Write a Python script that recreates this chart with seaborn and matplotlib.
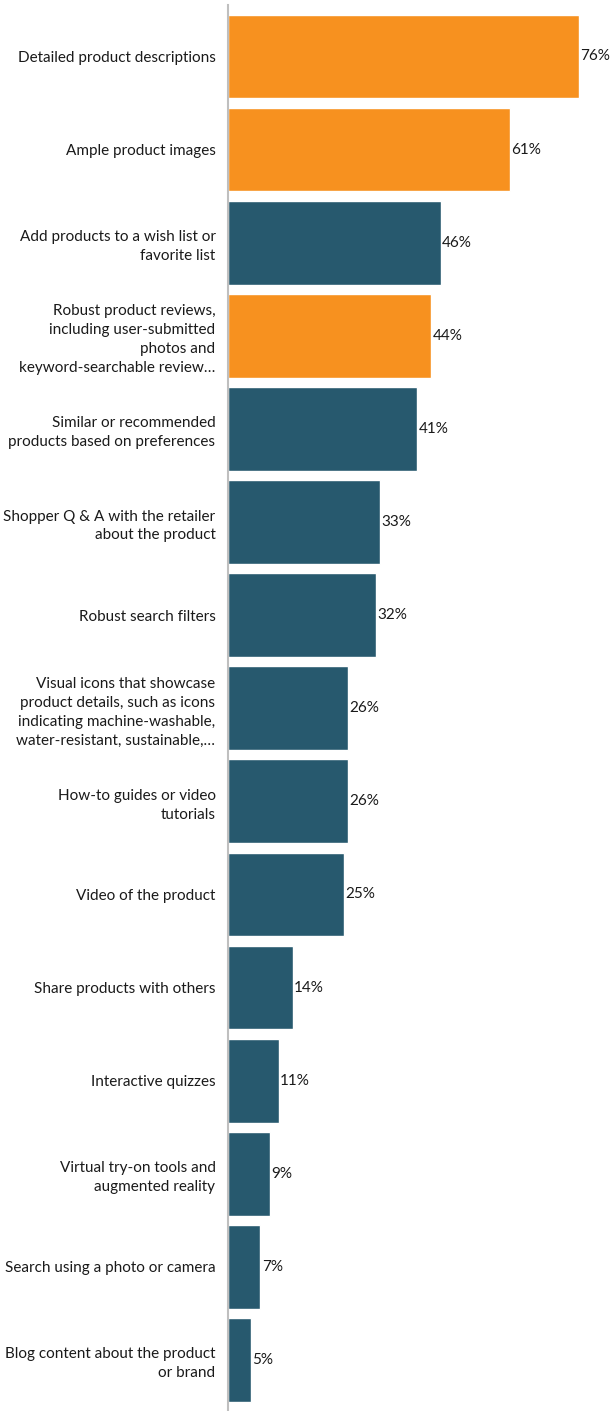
import matplotlib
matplotlib.use("Agg")
import matplotlib.pyplot as plt
import seaborn as sns
import pandas as pd

categories = [
    "Detailed product descriptions",
    "Ample product images",
    "Add products to a wish list or\nfavorite list",
    "Robust product reviews,\nincluding user-submitted\nphotos and\nkeyword-searchable review\u2026",
    "Similar or recommended\nproducts based on preferences",
    "Shopper Q & A with the retailer\nabout the product",
    "Robust search filters",
    "Visual icons that showcase\nproduct details, such as icons\nindicating machine-washable,\nwater-resistant, sustainable,\u2026",
    "How-to guides or video\ntutorials",
    "Video of the product",
    "Share products with others",
    "Interactive quizzes",
    "Virtual try-on tools and\naugmented reality",
    "Search using a photo or camera",
    "Blog content about the product\nor brand",
]
values = [76, 61, 46, 44, 41, 33, 32, 26, 26, 25, 14, 11, 9, 7, 5]
highlight = [True, True, False, True, False, False, False, False, False, False, False, False, False, False, False]

ORANGE = "#F7911F"
TEAL = "#27596E"
TEXT = "#1A1A1A"

df = pd.DataFrame({"feature": categories, "share": values, "hl": highlight})
palette = {c: (ORANGE if h else TEAL) for c, h in zip(categories, highlight)}

sns.set_theme(style="white")
plt.rcParams["font.family"] = ["Lato", "DejaVu Sans"]

fig = plt.figure(figsize=(6.13, 14.11), dpi=100)
ax = fig.add_axes([228 / 613, 0, 385 / 613, 1406 / 1411])

sns.barplot(data=df, x="share", y="feature", hue="feature", palette=palette,
            orient="h", width=0.9, legend=False, ax=ax, saturation=1)

ax.set_xlim(0, 385 / 4.62)
ax.set_ylim(14.548, -0.553)
ax.set_xlabel("")
ax.set_ylabel("")
ax.set_xticks([])
ax.tick_params(axis="y", length=0, pad=9, labelsize=11, labelcolor=TEXT)
for lbl in ax.get_yticklabels():
    lbl.set_linespacing(1.45)

for s in ["top", "right", "bottom"]:
    ax.spines[s].set_visible(False)
ax.spines["left"].set_color("#BFBFBF")
ax.spines["left"].set_linewidth(1.5)

for i, v in enumerate(values):
    ax.annotate(f"{v}%", xy=(v, i), xytext=(1, 0), textcoords="offset points",
                va="center", ha="left", fontsize=11, color=TEXT)

fig.savefig("out.png", dpi=100)
